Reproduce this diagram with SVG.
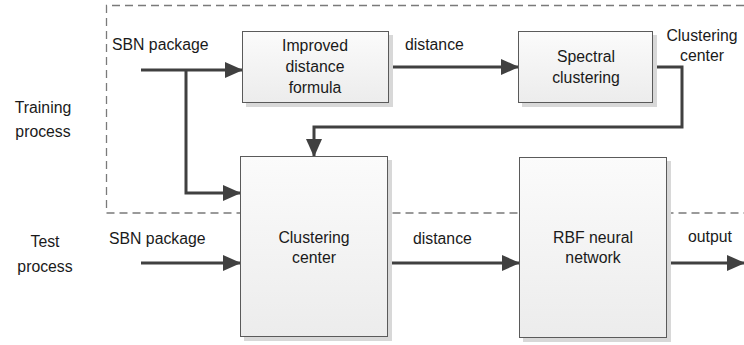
<svg xmlns="http://www.w3.org/2000/svg" width="744" height="345" viewBox="0 0 744 345">
  <style>
    .lbl { font-family: "Liberation Sans", Arial, sans-serif; font-size: 15.8px; fill: #1a1a1a; }
    .mid { text-anchor: middle; }
    .box { fill: url(#boxFill); stroke: #5a5a5a; stroke-width: 1; }
    .shadow { fill: #d8d8d8; }
    .wire { fill: none; stroke: #404040; stroke-width: 3; }
    .region { fill: none; stroke: #7a7a7a; stroke-width: 1.3; stroke-dasharray: 8 5; }
  </style>
  <defs>
    <linearGradient id="boxFill" x1="0" y1="0" x2="0" y2="1">
      <stop offset="0" stop-color="#fbfbfb"/>
      <stop offset="1" stop-color="#ececec"/>
    </linearGradient>
    <marker id="arrow" markerUnits="userSpaceOnUse" markerWidth="18" markerHeight="16" refX="17" refY="8" orient="auto">
      <path d="M0,0 L18,8 L0,16 Z" fill="#404040"/>
    </marker>
  </defs>
  <rect width="744" height="345" fill="#ffffff"/>

  <!-- training / test regions -->
  <g id="regions">
    <path class="region" d="M744,5.5 H106.5 V213"/>
    <path class="region" d="M106.5,213 H744"/>
    <text class="lbl mid" x="43" y="113">Training</text>
    <text class="lbl mid" x="43" y="137">process</text>
    <text class="lbl mid" x="45" y="247">Test</text>
    <text class="lbl mid" x="45" y="272">process</text>
  </g>

  <!-- connectors -->
  <g id="connectors">
    <path class="wire" d="M141,70 H242" marker-end="url(#arrow)"/>
    <path class="wire" d="M186,70 V193 H240" marker-end="url(#arrow)"/>
    <path class="wire" d="M389,67 H518" marker-end="url(#arrow)"/>
    <path class="wire" d="M653,67 H682 V127 H314 V156" marker-end="url(#arrow)"/>
    <path class="wire" d="M141,263 H240" marker-end="url(#arrow)"/>
    <path class="wire" d="M387,263 H519" marker-end="url(#arrow)"/>
    <path class="wire" d="M667,263 H744" marker-end="url(#arrow)"/>
    <text class="lbl" x="112" y="50">SBN package</text>
    <text class="lbl" x="405" y="50">distance</text>
    <text class="lbl mid" x="702" y="41">Clustering</text>
    <text class="lbl mid" x="702" y="61">center</text>
    <text class="lbl" x="109" y="244">SBN package</text>
    <text class="lbl" x="413" y="244">distance</text>
    <text class="lbl" x="688" y="242">output</text>
  </g>

  <!-- nodes -->
  <g id="improved-distance">
    <rect class="shadow" x="246" y="35" width="147" height="72"/>
    <rect class="box" x="242.5" y="31.5" width="146" height="71"/>
    <text class="lbl mid" x="315" y="51">Improved</text>
    <text class="lbl mid" x="315" y="72">distance</text>
    <text class="lbl mid" x="315" y="93">formula</text>
  </g>
  <g id="spectral-clustering">
    <rect class="shadow" x="522" y="35" width="135" height="72"/>
    <rect class="box" x="518.5" y="31.5" width="134" height="71"/>
    <text class="lbl mid" x="586" y="62">Spectral</text>
    <text class="lbl mid" x="586" y="83">clustering</text>
  </g>
  <g id="clustering-center">
    <rect class="shadow" x="244" y="160" width="148" height="181"/>
    <rect class="box" x="240.5" y="156.5" width="147" height="180"/>
    <text class="lbl mid" x="314" y="243">Clustering</text>
    <text class="lbl mid" x="314" y="263">center</text>
  </g>
  <g id="rbf-network">
    <rect class="shadow" x="523" y="161" width="148" height="181"/>
    <rect class="box" x="519.5" y="157.5" width="147" height="180"/>
    <text class="lbl mid" x="593" y="243">RBF neural</text>
    <text class="lbl mid" x="593" y="263">network</text>
  </g>
</svg>
